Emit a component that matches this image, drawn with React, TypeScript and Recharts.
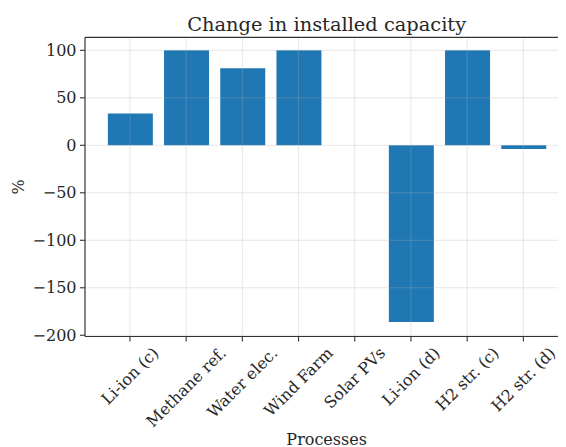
import React from 'react';
import { BarChart, Bar, XAxis, YAxis, ReferenceLine } from 'recharts';

const categories = ['Li-ion (c)', 'Methane ref.', 'Water elec.', 'Wind Farm', 'Solar PVs', 'Li-ion (d)', 'H2 str. (c)', 'H2 str. (d)'];
const changePct = [33.5, 100, 81, 100, 0, -186, 100, -4];
const yTicks = [-200, -150, -100, -50, 0, 50, 100];
const yDomain: [number, number] = [-201.3, 113.7];

const data = categories.map((name, i) => ({ name, value: changePct[i] }));

const FONT = '"DejaVu Serif", serif';
const FS = 16;
const LFS = 16;
const TEXT = '#262626';
const SPINE = '#333333';
const GRID = '#b0b0b0';

let ctx: CanvasRenderingContext2D | null = null;
function measure(s: string, fs: number): number {
  if (!ctx) {
    const c = document.createElement('canvas');
    ctx = c.getContext('2d');
  }
  if (!ctx) return s.length * fs * 0.6;
  ctx.font = `${fs}px "DejaVu Serif"`;
  return ctx.measureText(s).width;
}

const XTick = (props: any) => {
  const { x, y, payload } = props;
  const label = String(payload.value);
  const w = measure(label, FS);
  const h = FS * 1.0;
  const cy = y + ((w + h) * 0.7071) / 2;
  return (
    <text
      x={x}
      y={cy}
      textAnchor="middle"
      dominantBaseline="central"
      fontFamily={FONT}
      fontSize={FS}
      fill={TEXT}
      transform={`rotate(-45 ${x} ${cy})`}
    >
      {label}
    </text>
  );
};

const fmt = (v: number) => (v < 0 ? '\u2212' + Math.abs(v) : String(v));

export default function App() {
  return (
    <div style={{ position: 'relative', width: 558, height: 439, overflow: 'hidden', fontFamily: FONT }}>
      <BarChart
        width={570}
        height={439}
        data={data}
        margin={{ top: 29.3, right: 9.7, left: 0, bottom: 0 }}
        barSize={45}
      >
        <XAxis
          dataKey="name"
          type="category"
          padding={{ left: 16.85, right: 16.85 }}
          height={110.5}
          interval={0}
          tick={<XTick />}
          tickSize={5}
          tickMargin={3}
          axisLine={{ stroke: SPINE, strokeWidth: 1.2 }}
          tickLine={{ stroke: SPINE, strokeWidth: 1.1 }}
          label={{
            content: () => (
              <text x={318.65} y={436.5} textAnchor="middle" fontFamily={FONT} fontSize={LFS} fill={TEXT}>
                Processes
              </text>
            ),
          }}
        />
        <YAxis
          type="number"
          domain={yDomain}
          ticks={yTicks}
          allowDataOverflow
          width={77}
          tickFormatter={fmt}
          tickSize={5}
          tickMargin={3.5}
          tick={{ fontFamily: FONT, fontSize: FS, fill: TEXT }}
          axisLine={{ stroke: SPINE, strokeWidth: 1.2 }}
          tickLine={{ stroke: SPINE, strokeWidth: 1.1 }}
          label={{
            content: () => (
              <text
                x={10}
                y={179}
                textAnchor="middle"
                dominantBaseline="central"
                fontFamily={FONT}
                fontSize={LFS}
                fill={TEXT}
                transform="rotate(-90 10 179)"
              >
                %
              </text>
            ),
          }}
        />
        <Bar dataKey="value" fill="#1f77b4" isAnimationActive={false} />
        {categories.map((c) => (
          <ReferenceLine key={'v' + c} x={c} stroke={GRID} strokeOpacity={0.3} strokeWidth={1} />
        ))}
        {yTicks.map((t) => (
          <ReferenceLine key={'h' + t} y={t} stroke={GRID} strokeOpacity={0.3} strokeWidth={1} />
        ))}
        <ReferenceLine y={yDomain[1]} stroke={SPINE} strokeWidth={1.2} ifOverflow="visible" />
      </BarChart>
      <div
        style={{
          position: 'absolute',
          left: 0,
          top: 0,
          width: 637.3,
          textAlign: 'center',
          fontSize: 19.4,
          lineHeight: '22px',
          paddingTop: 6,
          color: TEXT,
          whiteSpace: 'nowrap',
        }}
      >
        Change in installed capacity
      </div>
    </div>
  );
}
